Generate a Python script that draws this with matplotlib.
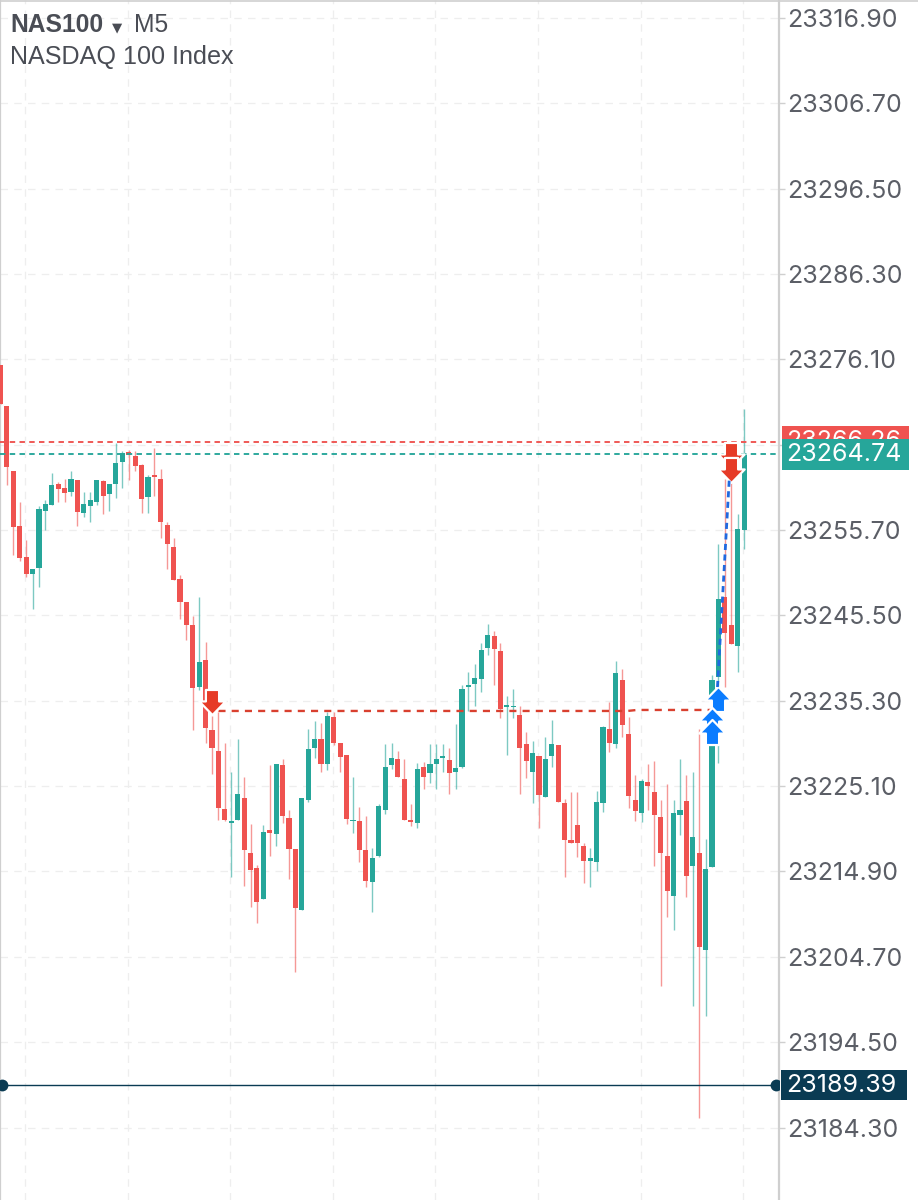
import matplotlib
matplotlib.use('Agg')
import matplotlib.pyplot as plt
from matplotlib.path import Path
from matplotlib.patches import Rectangle
from matplotlib.lines import Line2D

### prices, as points above 23000
BASE = 23000
opens = [275.4, 270.5, 262.7, 256.2, 252.5, 250.4, 251.2, 258.0, 258.7, 261.2, 260.7, 260.2, 261.7, 257.7, 258.6, 259.1,
         261.6, 260.0, 261.2, 263.8, 265.0, 264.6, 263.5, 259.6, 262.3, 261.8, 256.3, 253.7, 249.8, 247.1, 244.4, 237.0,
         240.2, 231.8, 229.3, 222.4, 220.7, 221.1, 223.7, 217.1, 215.3, 211.6, 219.9, 219.4, 227.6, 221.3, 217.6, 210.3,
         223.5, 229.7, 230.7, 227.7, 233.3, 230.2, 228.8, 220.9, 220.9, 217.5, 213.7, 216.7, 222.2, 227.6, 228.3, 226.0,
         221.1, 220.7, 227.4, 226.7, 227.7, 228.5, 228.2, 226.8, 227.4, 237.0, 237.3, 237.9, 241.6, 243.0, 241.2, 234.6,
         234.5, 233.6, 230.1, 226.8, 228.7, 223.8, 228.7, 230.0, 223.1, 218.7, 220.5, 218.0, 216.2, 216.0, 223.1, 231.9,
         230.1, 237.8, 231.3, 223.5, 221.9, 225.6, 224.4, 221.4, 216.8, 212.0, 221.7, 223.3, 215.6, 217.1, 205.5,
         215.4, 238.1, 247.7, 244.4, 241.9, 255.7]
highs = [275.4, 270.5, 262.7, 259.0, 254.5, 251.0, 258.6, 259.3, 262.5, 261.4, 261.8, 262.7, 261.7, 260.2, 260.2, 261.7,
         261.7, 261.2, 266.1, 265.1, 265.2, 265.1, 263.6, 262.3, 265.5, 263.0, 256.7, 254.8, 250.3, 247.1, 245.4, 247.7,
         242.3, 233.5, 234.0, 230.3, 226.8, 230.7, 226.2, 220.6, 215.7, 220.5, 227.6, 227.8, 228.4, 222.2, 217.6, 223.7,
         231.9, 232.9, 232.7, 233.9, 234.0, 230.2, 228.8, 226.2, 222.6, 221.5, 217.7, 223.0, 230.1, 230.2, 229.3, 228.4,
         223.0, 227.9, 228.0, 230.1, 230.1, 230.1, 229.6, 232.5, 237.2, 238.7, 239.7, 242.2, 244.5, 243.6, 242.2, 235.9,
         236.7, 234.7, 231.6, 230.5, 228.7, 231.0, 233.0, 230.0, 223.6, 224.4, 224.4, 218.3, 217.7, 224.5, 232.3, 235.1,
         240.1, 239.1, 233.3, 226.4, 226.0, 227.7, 228.1, 223.4, 225.4, 223.4, 228.4, 226.4, 226.8, 231.9, 218.8,
         234.4, 254.0, 261.8, 261.7, 257.6, 270.2]
lows = [270.8, 261.1, 252.7, 252.0, 250.1, 246.3, 248.9, 255.7, 258.7, 259.0, 259.0, 259.8, 256.2, 257.2, 256.7, 258.7,
        257.6, 258.0, 259.5, 260.7, 261.7, 262.8, 257.7, 257.7, 259.8, 254.8, 251.0, 249.7, 245.1, 242.5, 231.8, 236.6,
        230.3, 226.5, 221.1, 220.9, 214.3, 221.1, 213.2, 210.6, 208.7, 211.6, 216.8, 218.0, 220.7, 214.0, 202.9, 210.3,
        223.2, 228.5, 226.8, 227.0, 230.0, 226.8, 220.6, 219.5, 216.0, 213.0, 210.1, 216.6, 221.8, 227.1, 226.2, 221.0,
        220.3, 220.1, 224.8, 225.5, 224.8, 226.8, 224.2, 224.8, 227.3, 234.1, 234.7, 236.3, 240.8, 237.2, 233.2, 228.8,
        233.2, 224.2, 226.1, 223.1, 220.1, 223.8, 227.4, 223.2, 214.2, 218.3, 216.6, 213.5, 213.0, 215.0, 222.0, 229.2,
        229.7, 231.0, 222.5, 220.9, 220.8, 222.2, 215.6, 201.2, 209.5, 207.9, 219.3, 211.8, 198.8, 185.4, 197.6,
        215.4, 227.9, 236.9, 242.1, 238.7, 253.4]
closes = [270.8, 263.2, 256.1, 252.3, 250.5, 251.0, 258.2, 258.8, 261.1, 260.6, 260.1, 261.8, 257.8, 258.8, 259.3, 261.7,
          259.8, 261.2, 263.7, 264.9, 264.7, 263.3, 259.4, 262.0, 262.0, 256.6, 254.0, 249.7, 247.1, 244.3, 236.8, 239.9,
          232.0, 229.6, 222.5, 221.0, 220.8, 224.2, 217.5, 215.1, 211.3, 219.6, 219.5, 227.7, 221.5, 217.6, 210.5, 223.7,
          229.5, 230.7, 227.7, 233.5, 230.2, 228.6, 221.2, 221.1, 217.5, 213.8, 216.5, 222.7, 227.4, 228.5, 226.2, 221.0,
          220.8, 227.2, 226.2, 227.7, 228.4, 228.7, 226.7, 227.3, 236.7, 237.2, 238.0, 241.4, 243.2, 241.5, 234.3, 234.7,
          234.6, 229.6, 228.1, 229.0, 224.0, 228.3, 230.1, 223.2, 218.7, 218.3, 218.3, 216.1, 216.5, 223.2, 232.2, 230.3,
          238.6, 232.4, 223.9, 222.1, 225.7, 225.1, 221.6, 217.1, 212.6, 221.9, 222.3, 214.4, 219.0, 205.9, 215.2,
          230.1, 247.5, 243.4, 242.1, 255.8, 264.7]
# short stub above the arrows on candle 111
stub = {'x': 111, 'open': 236.0, 'high': 238.4, 'low': 234.4, 'close': 237.8}

tick_prices = [23316.90, 23306.70, 23296.50, 23286.30, 23276.10, 23265.90, 23255.70,
               23245.50, 23235.30, 23225.10, 23214.90, 23204.70, 23194.50, 23184.30]
hidden_tick = 23265.90  # sits under the price tags, no label visible
ask_price = 23266.26
bid_price = 23264.74
level_price = 23189.39

# trade markers (candle, price)
sell_arrows = [(33, 235.1), (114, 264.7), (114, 262.9)]
buy_arrows = [(112, 235.45), (111, 233.05), (111, 231.55)]
sell_level_x = [34, 97.8, 99.3, 110.8]
sell_level_y = [234.08, 234.08, 234.2, 234.2]
trade_x = [111.85, 113.7]
trade_y = [236.94, 261.9]

grid_x = [3.85, 19.85, 35.85, 51.85, 67.85, 83.85, 99.85, 115.85]

RED = '#ef5350'
GREEN = '#26a69a'
DARK = '#0a3b53'
TEXT = '#5b5e66'

W, H = 918, 1200
AX_PX = 779  # price axis sits here

fig = plt.figure(figsize=(W / 100, H / 100), dpi=100, facecolor='white')
ax = fig.add_axes([0, 0, AX_PX / W, 1])
ax.set_xlim(-0.08, 121.45)
# 8.37 px per point, 23255.70 at y=530
ax.set_ylim(23255.70 - (H - 530) / 8.37, 23255.70 + 530 / 8.37)

# grid
ax.set_axisbelow(True)
ax.set_xticks(grid_x)
ax.set_yticks(tick_prices)
ax.grid(True, color='#eeeeee', linewidth=0.9, linestyle=(0, (6, 5)))
ax.tick_params(axis='x', length=0, labelbottom=False)
ax.yaxis.tick_right()
ax.set_yticklabels(['' if p == hidden_tick else '%.2f' % p for p in tick_prices], family='Inter', fontsize=18, color=TEXT)
ax.tick_params(axis='y', length=4, width=1, color='#cfcfcf', pad=1.5)
for side in ['top', 'bottom']:
    ax.spines[side].set_visible(False)
ax.spines['left'].set_color('#cfcfcf')
ax.spines['left'].set_linewidth(1.6)
ax.spines['right'].set_color('#cfcfcf')
ax.spines['right'].set_linewidth(1.6)
fig.add_artist(Line2D([0, 1], [0.9988, 0.9988], color='#cfcfcf', linewidth=1.2))


def draw_candle(x, o, h, l, c):
    color = GREEN if c >= o else RED
    ax.vlines(x, BASE + l, BASE + h, color=color, linewidth=1.0, alpha=0.6, zorder=2)
    ax.bar(x, max(abs(c - o), 0.2), bottom=BASE + min(o, c), width=0.8, color=color, linewidth=0, zorder=3)


for i in range(len(opens)):
    draw_candle(i, opens[i], highs[i], lows[i], closes[i])
draw_candle(stub['x'], stub['open'], stub['high'], stub['low'], stub['close'])

# price lines
ax.axhline(ask_price, color=RED, linewidth=1.35, linestyle=(0, (2.9, 2.3)), zorder=4)
ax.axhline(bid_price, color=GREEN, linewidth=1.35, linestyle=(0, (2.9, 2.3)), zorder=4)
ax.axhline(level_price, color=DARK, linewidth=1.0, zorder=4)
ytrans = ax.get_yaxis_transform()
ax.plot([2 / AX_PX, 776 / AX_PX], [level_price, level_price], linestyle='none', marker='o', markersize=8.5,
        color=DARK, markeredgewidth=0, transform=ytrans, zorder=4)
ax.plot(sell_level_x, [BASE + v for v in sell_level_y], color='#d9402f', linewidth=1.7,
        linestyle=(0, (3.0, 2.6)), zorder=4)

# arrows, white edge cuts the candles underneath
down_arrow = Path([(-.5, .95), (.5, .95), (.5, .08), (1, .08), (0, -.95), (-1, .08), (-.5, .08), (-.5, .95)], closed=True)
up_arrow = Path([(-.5, -.95), (.5, -.95), (.5, -.08), (1, -.08), (0, .95), (-1, -.08), (-.5, -.08), (-.5, -.95)], closed=True)
for x, y in sell_arrows:
    ax.plot(x, BASE + y, marker=down_arrow, markersize=19, color='#e63b27', markeredgecolor='white',
            markeredgewidth=1.6, linestyle='none', zorder=5)
for x, y in buy_arrows:
    ax.plot(x, BASE + y, marker=up_arrow, markersize=19, color='#0a7cff', markeredgecolor='white',
            markeredgewidth=1.6, linestyle='none', zorder=5)
ax.plot(trade_x, [BASE + v for v in trade_y], color='#1f69e0', linewidth=2.0, linestyle=(0, (2.2, 1.6)), zorder=6)


# price tags on the axis
def price_tag(price, color, left, right, zorder):
    ax.add_patch(Rectangle((left / AX_PX, price - 1.83), (right - left) / AX_PX, 3.66, transform=ytrans,
                           facecolor=color, edgecolor='none', clip_on=False, zorder=zorder))
    ax.text(786 / AX_PX, price, '%.2f' % price, transform=ytrans, family='Inter', fontsize=18, color='white',
            va='center', ha='left', clip_on=False, zorder=zorder)


price_tag(ask_price, RED, 782, 909, 7)
price_tag(bid_price, GREEN, 782, 909, 8)
price_tag(level_price, DARK, 781, 907, 7)

# header
fig.text(10 / W, 1 - 32 / H, 'NAS100', family='Liberation Sans', fontweight='bold', fontsize=17.7, color='#4a4d55',
         va='baseline', ha='left')
fig.text(112 / W, 1 - 31 / H, '▼', family='DejaVu Sans', fontsize=9.5, color='#4a4d55', va='baseline', ha='left')
fig.text(134 / W, 1 - 32 / H, 'M5', family='Liberation Sans', fontsize=17.7, color='#4a4d55', va='baseline', ha='left')
fig.text(10 / W, 1 - 64 / H, 'NASDAQ 100 Index', family='Liberation Sans', fontsize=18.1, color='#4a4d55',
         va='baseline', ha='left')

fig.savefig('out.png', dpi=100)
